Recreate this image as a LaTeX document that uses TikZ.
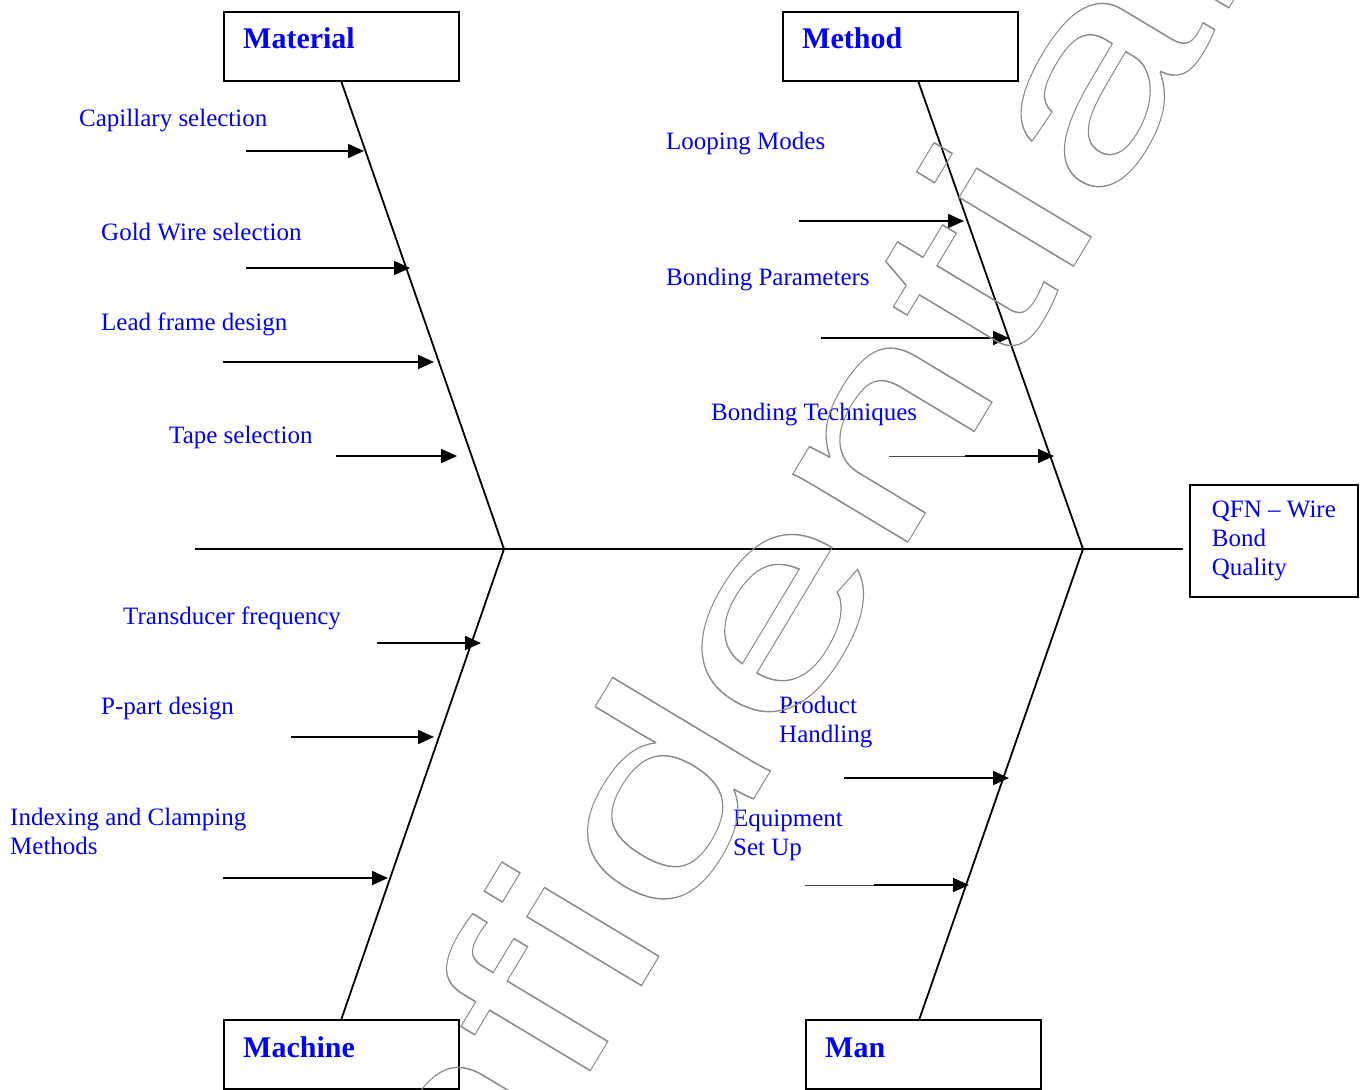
\documentclass[tikz,border=0pt]{standalone}
\usepackage{fontspec}
\setmainfont{Liberation Serif}
\newfontfamily\wmfont{Liberation Sans}
\usetikzlibrary{arrows.meta,positioning,calc}
\definecolor{wmgray}{HTML}{8A8A8A}
\tikzset{catbox/.style={draw,line width=1.8pt,minimum width=235pt,minimum height=69pt,inner sep=0pt,anchor=north west},
         cattitle/.style={anchor=base west,inner sep=0pt,text=blue,font=\fontsize{30}{34}\selectfont\bfseries},
         lbl/.style={anchor=base west,inner sep=0pt,text=blue,align=left,font=\fontsize{25}{28.7}\selectfont},
         bone/.style={line width=1.8pt},
         cause/.style={line width=1.8pt,-{Triangle[length=16pt,width=14pt]}},
         lead/.style={line width=0.7pt,draw=black!70},
         wmark/.style={anchor=base,inner sep=0pt,rotate=59,xscale=1.53,font=\wmfont\fontsize{253}{253}\selectfont}}
% outlined (stroked) text for the watermark
\newcommand{\wmtext}[1]{{\color{wmgray}\special{pdf:literal direct 1 Tr 1 w}#1\special{pdf:literal direct 0 Tr}}}

\begin{document}
\begin{tikzpicture}[x=1pt,y=-1pt]
\useasboundingbox (0,0) rectangle (1364,1089);
% category boxes
\node[catbox] (mat) at (223,11) {};
\node[catbox] (meth) at (782,11) {};
\node[catbox] (mach) at (223,1019) {};
\node[catbox] (man) at (805,1019) {};
\node[cattitle] (matt) at ([shift={(20,38)}]mat.north west) {Material};
\node[cattitle] (metht) at ([shift={(20,38)}]meth.north west) {Method};
\node[cattitle] (macht) at ([shift={(20,38)}]mach.north west) {Machine};
\node[cattitle] (mant) at ([shift={(20,38)}]man.north west) {Man};
% effect
\node[draw,line width=1.8pt,anchor=north west,minimum width=168pt,minimum height=112pt,
      inner sep=0pt,align=left,text=blue,
      font=\fontsize{25}{28.7}\selectfont] (qfn) at (1189,484) {QFN \textendash{} Wire\\Bond\\Quality};
% spine and bones
\coordinate (tail) at (195,549);
\coordinate (j1) at (504,549);
\coordinate (j2) at (1083,549);
\coordinate (head) at (1183,549);
\draw[bone] (tail) -- (head);
\draw[bone] (mat.south) -- (j1) -- (mach.north);
\draw[bone] ([xshift=18pt]meth.south) -- (j2) -- ([xshift=-4pt]man.north);
% material causes
\node[lbl] (cap) at (79,127) {Capillary selection};
\node[lbl] (gold) at (101,240) {Gold Wire selection};
\node[lbl] (lead) at (101,330) {Lead frame design};
\node[lbl] (tape) at (169,443) {Tape selection};
\coordinate (cap0) at (246,151); \coordinate (cap1) at (364,151);
\coordinate (gold0) at (246,268); \coordinate (gold1) at (410,268);
\coordinate (lead0) at (223,362); \coordinate (lead1) at (434,362);
\coordinate (tape0) at (336,456); \coordinate (tape1) at (457,456);
\draw[cause] (cap0) -- (cap1);
\draw[cause] (gold0) -- (gold1);
\draw[cause] (lead0) -- (lead1);
\draw[cause] (tape0) -- (tape1);
% method causes
\node[lbl] (loop) at (666,149) {Looping Modes};
\node[lbl] (bpar) at (666,285) {Bonding Parameters};
\node[lbl] (btech) at (711,420) {Bonding Techniques};
\coordinate (loop0) at (799,221); \coordinate (loop1) at (964,221);
\coordinate (bpar0) at (821,338); \coordinate (bpar1) at (1009,338);
\coordinate (btech0) at (889,456); \coordinate (btechm) at (965,456); \coordinate (btech1) at (1054,456);
\draw[cause] (loop0) -- (loop1);
\draw[cause] (bpar0) -- (bpar1);
\draw[lead] (btech0) -- (btechm);
\draw[cause] (btechm) -- (btech1);
% machine causes
\node[lbl] (trans) at (123,624) {Transducer frequency};
\node[lbl] (ppart) at (101,714) {P-part design};
\node[lbl] (index) at (10,854) {Indexing and Clamping\\Methods};
\coordinate (trans0) at (377,643); \coordinate (trans1) at (481,643);
\coordinate (ppart0) at (291,737); \coordinate (ppart1) at (434,737);
\coordinate (index0) at (223,878); \coordinate (index1) at (388,878);
\draw[cause] (trans0) -- (trans1);
\draw[cause] (ppart0) -- (ppart1);
\draw[cause] (index0) -- (index1);
% man causes
\node[lbl] (prod) at (779,742) {Product\\Handling};
\node[lbl] (equip) at (733,855) {Equipment\\Set Up};
\coordinate (prod0) at (844,778); \coordinate (prod1) at (1009,778);
\coordinate (equip0) at (805,885); \coordinate (equipm) at (874,885); \coordinate (equip1) at (969,885);
\draw[cause] (prod0) -- (prod1);
\draw[lead] (equip0) -- (equipm);
\draw[cause] (equipm) -- (equip1);
% watermark
\node[wmark] (wm) at (733.5,832.3) {\wmtext{Confidential}};
\end{tikzpicture}
\end{document}
